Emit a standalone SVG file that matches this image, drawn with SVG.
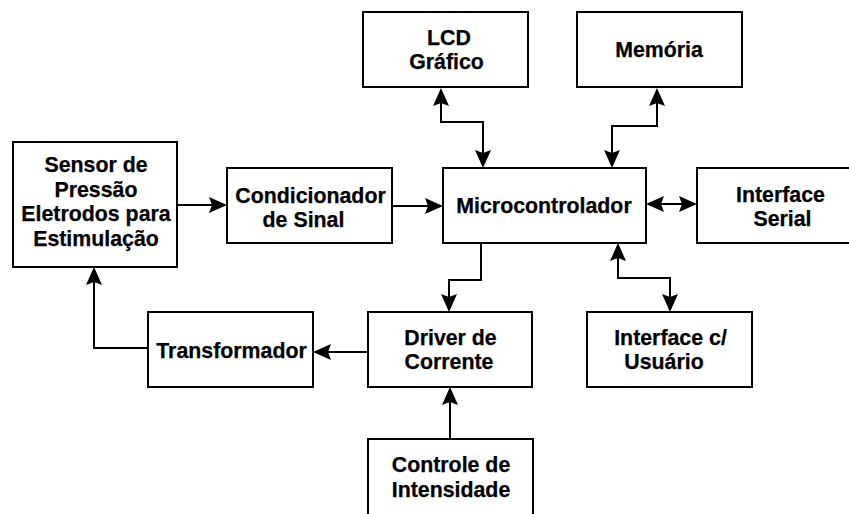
<svg xmlns="http://www.w3.org/2000/svg" width="849" height="514" viewBox="0 0 849 514">
  <defs>
    <style>
      .box { fill: #ffffff; stroke: #000000; stroke-width: 2; }
      .lbl { font-family: "Liberation Sans", Arial, Helvetica, sans-serif; font-size: 21.33px; font-weight: bold; fill: #000000; stroke: #000000; stroke-width: 0.25; text-anchor: middle; }
      .wire { fill: none; stroke: #000000; stroke-width: 2; }
      .one { marker-end: url(#head); }
      .two { marker-start: url(#head); marker-end: url(#head); }
    </style>
    <!-- classic notched arrowhead; path end sits at the notch, tip 15px further on -->
    <marker id="head" markerUnits="userSpaceOnUse" viewBox="0 0 18 16" markerWidth="18" markerHeight="16" refX="3" refY="8" orient="auto-start-reverse">
      <path d="M0,0 L18,8 L0,16 L3,8 Z" fill="#000000"/>
    </marker>
  </defs>
  <rect width="849" height="514" fill="#ffffff"/>

  <g id="connectors">
    <path class="wire one" d="M177,205 H212"/>
    <path class="wire one" d="M392,206 H428"/>
    <path class="wire two" d="M661,204 H682"/>
    <path class="wire two" d="M441,103 V122 H483 V153"/>
    <path class="wire two" d="M657,103 V126 H612 V153"/>
    <path class="wire one" d="M481,243 V280 H449 V297"/>
    <path class="wire two" d="M618,258 V278 H670 V297"/>
    <path class="wire one" d="M368,352 H328"/>
    <path class="wire one" d="M148,348 H94 V282"/>
    <path class="wire one" d="M450,439 V402"/>
  </g>

  <g id="sensor">
    <rect class="box" x="13" y="142" width="164" height="125"/>
    <text class="lbl" x="96" y="172">Sensor de</text>
    <text class="lbl" x="96" y="196.5">Pressão</text>
    <text class="lbl" x="96" y="221">Eletrodos para</text>
    <text class="lbl" x="96" y="245.5">Estimulação</text>
  </g>

  <g id="condicionador">
    <rect class="box" x="227" y="168" width="165" height="75"/>
    <text class="lbl" x="310.5" y="203">Condicionador</text>
    <text class="lbl" x="303.5" y="227">de Sinal</text>
  </g>

  <g id="microcontrolador">
    <rect class="box" x="443" y="168" width="203" height="75"/>
    <text class="lbl" x="544" y="213">Microcontrolador</text>
  </g>

  <g id="interface-serial">
    <rect class="box" x="697" y="168" width="170" height="75"/>
    <text class="lbl" x="780.5" y="202">Interface</text>
    <text class="lbl" x="782.5" y="226">Serial</text>
  </g>

  <g id="lcd">
    <rect class="box" x="363" y="12" width="165" height="75"/>
    <text class="lbl" x="449" y="45">LCD</text>
    <text class="lbl" x="446.5" y="69">Gráfico</text>
  </g>

  <g id="memoria">
    <rect class="box" x="577" y="12" width="165" height="75"/>
    <text class="lbl" x="659" y="57">Memória</text>
  </g>

  <g id="transformador">
    <rect class="box" x="148" y="312" width="165" height="75"/>
    <text class="lbl" x="231.5" y="357.5">Transformador</text>
  </g>

  <g id="driver">
    <rect class="box" x="368" y="312" width="164" height="75"/>
    <text class="lbl" x="450.5" y="345">Driver de</text>
    <text class="lbl" x="449" y="369">Corrente</text>
  </g>

  <g id="interface-usuario">
    <rect class="box" x="587" y="312" width="165" height="75"/>
    <text class="lbl" x="670.5" y="344.5">Interface c/</text>
    <text class="lbl" x="664" y="369">Usuário</text>
  </g>

  <g id="controle">
    <rect class="box" x="368" y="439" width="165" height="78"/>
    <text class="lbl" x="451" y="472">Controle de</text>
    <text class="lbl" x="451" y="497">Intensidade</text>
  </g>
</svg>
